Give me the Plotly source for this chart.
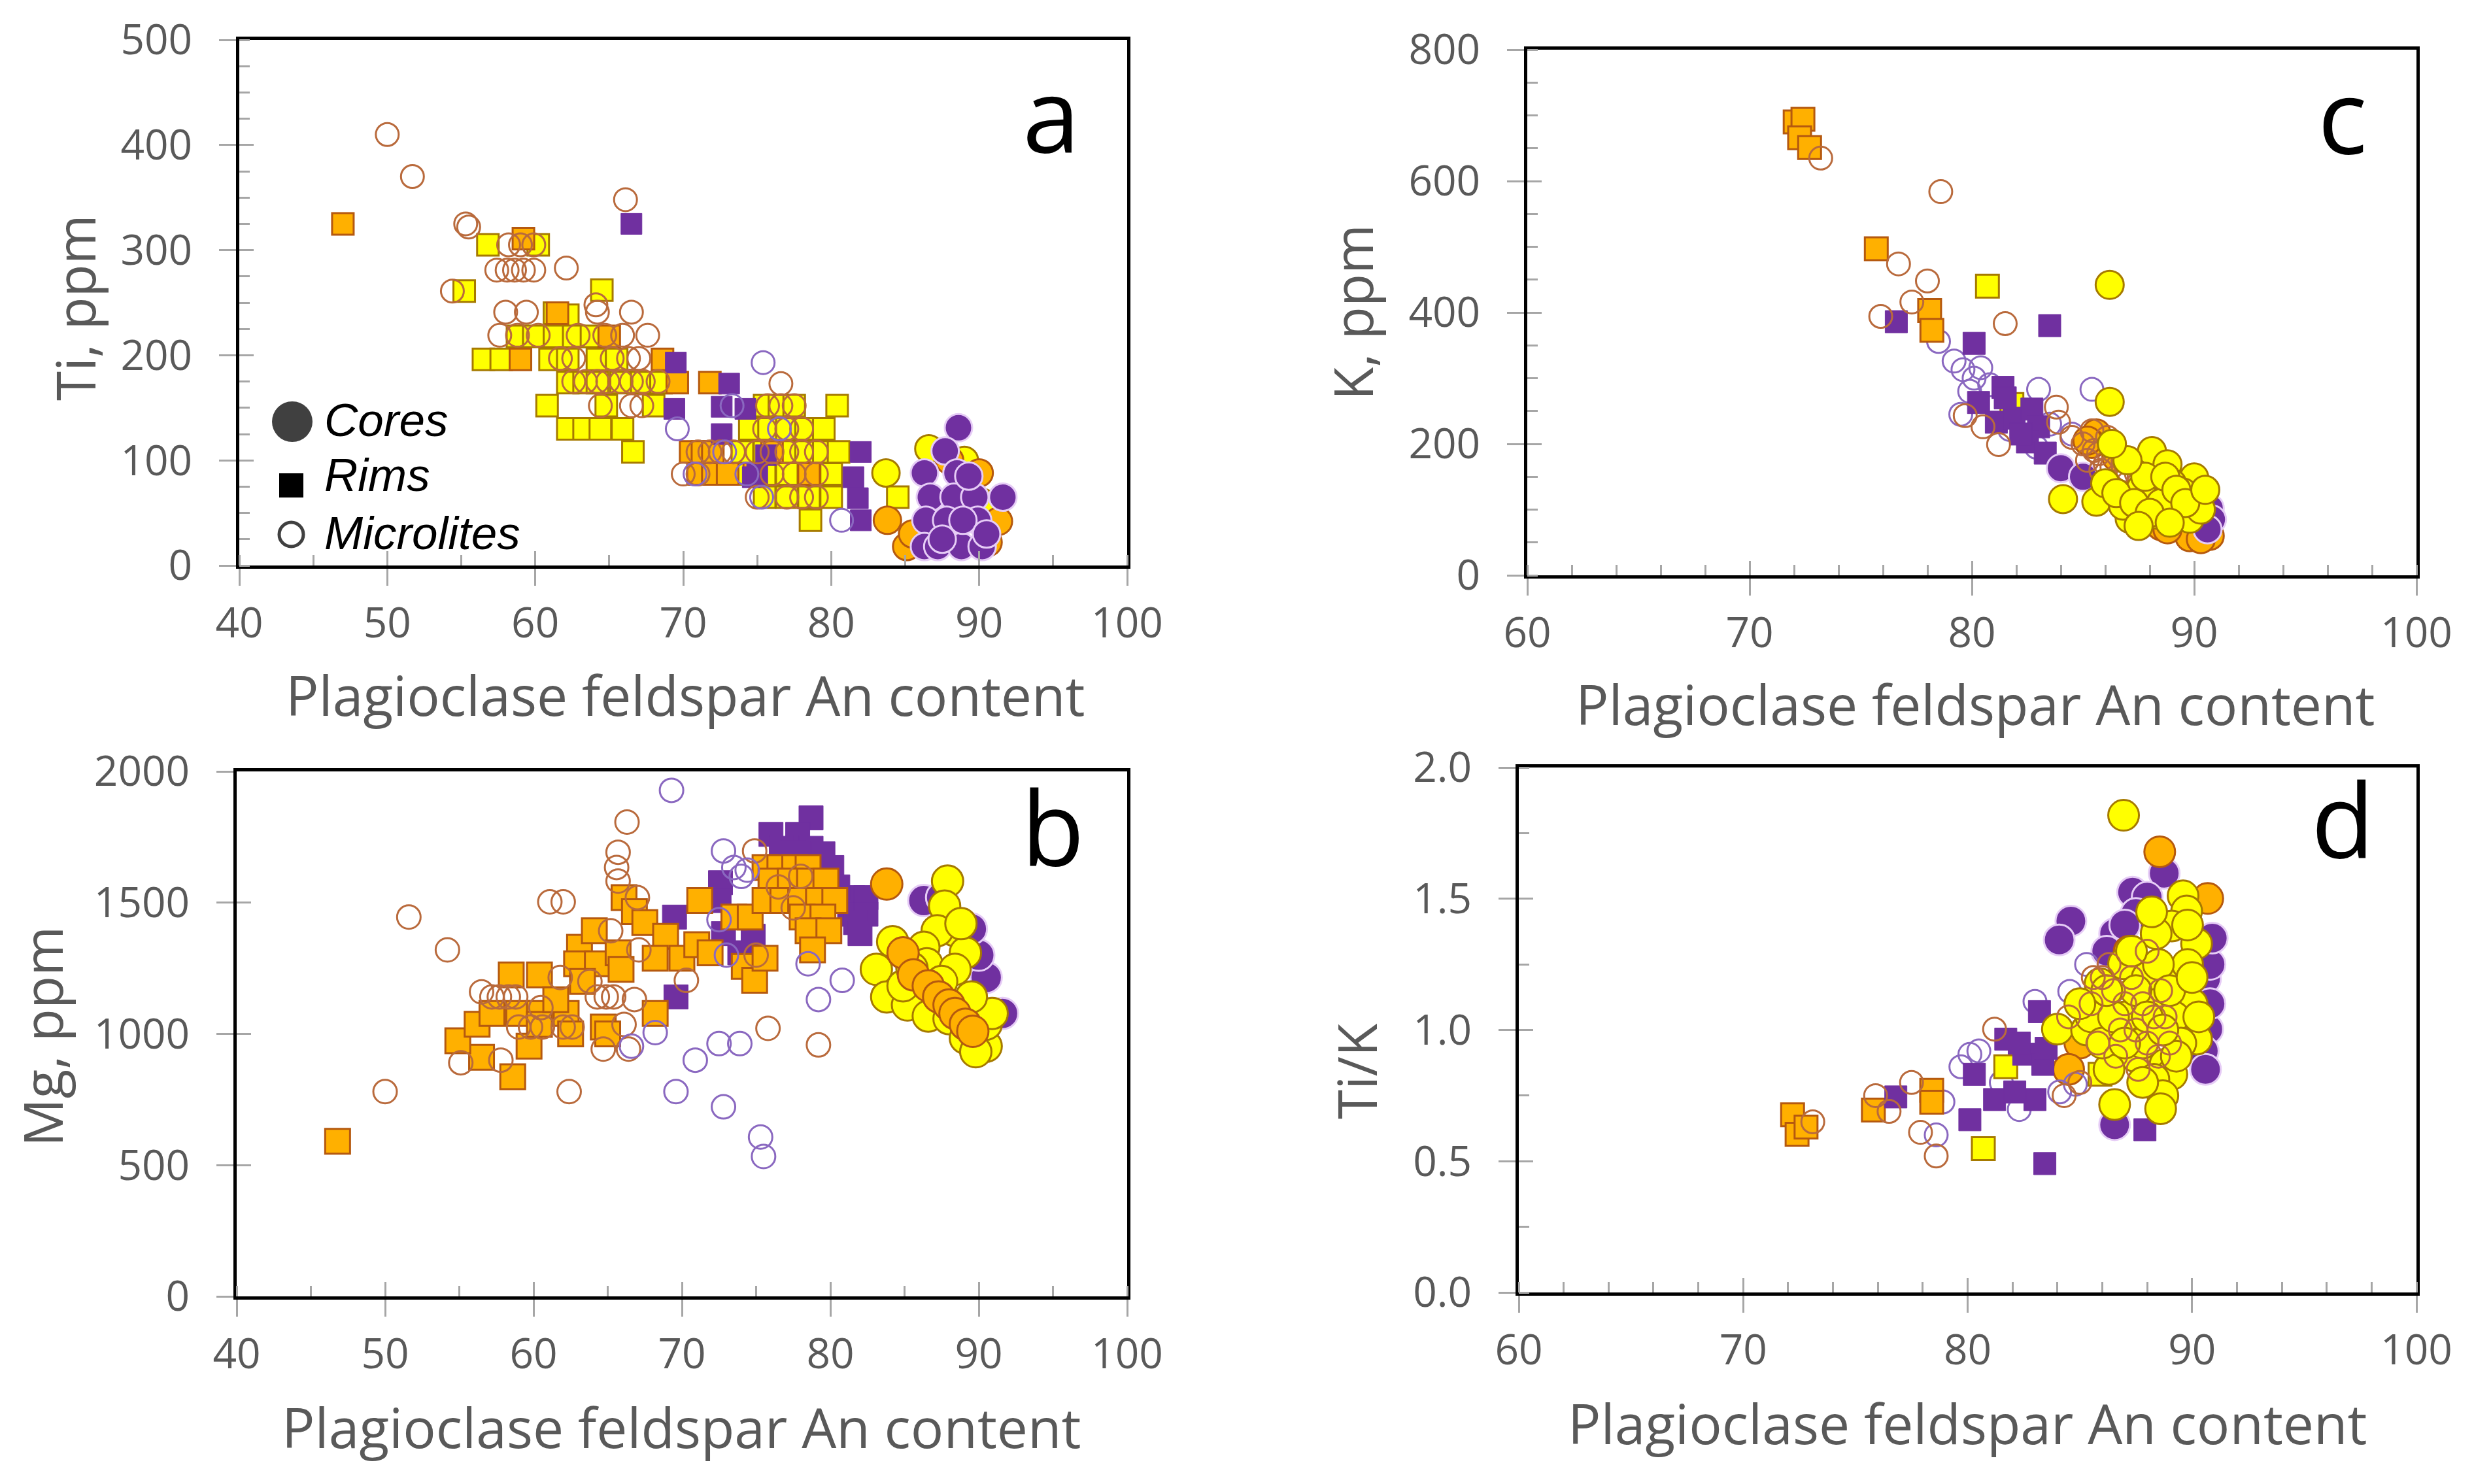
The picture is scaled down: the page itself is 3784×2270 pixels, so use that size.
import plotly.graph_objects as go

W, H = 3784, 2270
FONT = "Open Sans"
GREY = "#595959"
TICKC = "#A6A6A6"

YEL, YEL_EDGE = "#FFFF00", "#A67A00"
ORA, ORA_EDGE = "#FFB000", "#B5590F"
PUR, PUR_EDGE = "#7030A0", "#E6CCF6"
MIC_B = "#B96A3C"
MIC_P = "#8A68C0"

# ---------------- Panel a : Ti (ppm) vs An ----------------
a_core_Y_x = [83.7, 86.6, 89.0, 90.2]
a_core_Y_y = [88, 111, 100, 60]
a_core_O_x = [83.8, 85.1, 85.5, 90.0, 91.3, 90.6, 88.0]
a_core_O_y = [43, 18, 30, 88, 42, 22, 100]
a_core_P_x = [88.6, 87.7, 86.3, 88.5, 86.7, 88.3, 89.7, 91.6, 86.4, 87.8, 89.9, 86.3, 87.2, 88.8, 90.2, 88.9, 89.3, 90.5, 87.5]
a_core_P_y = [131, 109, 88, 88, 65, 65, 65, 65, 43, 43, 43, 18, 18, 18, 18, 43, 85, 30, 25]
a_rim_Y_x = [56.8, 60.2, 55.2, 64.5, 61.3, 62.2, 58.8, 59.9, 61.3, 62.6, 63.8,
             56.5, 57.7, 61.0, 62.2, 64.2, 65.5, 62.2, 63.3, 64.2, 65.8, 67.2, 68.5,
             60.8, 64.8, 68.0, 62.2, 63.3, 64.4, 65.9, 66.6,
             75.5, 76.5, 77.5, 80.4, 74.5, 75.8, 77.0, 78.3, 79.5,
             74.0, 75.5, 77.0, 78.3, 79.5, 80.5, 73.5, 75.5, 77.0, 78.5, 80.0,
             75.5, 77.0, 78.5, 80.0, 78.6, 84.5]
a_rim_Y_y = [305, 305, 261, 262, 240, 238, 218, 218, 218, 218, 218,
             196, 196, 196, 196, 196, 196, 174, 174, 174, 174, 174, 174,
             152, 152, 152, 130, 130, 130, 130, 108,
             152, 152, 152, 152, 130, 130, 130, 130, 130,
             108, 108, 108, 108, 108, 108, 87, 87, 87, 87, 87,
             65, 65, 65, 65, 43, 65]
a_rim_O_x = [47.0, 59.2, 59.0, 68.6, 69.6, 71.8, 70.5, 71.3, 72.0, 71.0, 72.0, 73.0, 76.0, 78.5, 74.8, 65.0, 61.5]
a_rim_O_y = [325, 311, 196, 196, 174, 174, 108, 108, 108, 87, 87, 87, 108, 87, 87, 218, 240]
a_rim_P_x = [66.5, 69.5, 69.4, 73.1, 72.6, 72.6, 74.2, 74.7, 75.6, 82.0, 81.5, 81.8, 82.0, 75.0]
a_rim_P_y = [325, 193, 149, 173, 151, 125, 149, 84, 105, 108, 84, 64, 43, 87]
a_mic_B_x = [50.0, 51.7, 55.3, 55.5, 66.1, 54.4, 57.4, 58.1, 58.6, 59.2, 59.9, 62.1,
             58.2, 59.0, 59.9, 58.0, 59.4, 64.1, 64.2, 66.5,
             57.6, 58.8, 60.2, 62.9, 64.7, 65.9, 67.6, 61.7, 62.6, 65.2, 66.3, 67.0,
             62.6, 63.4, 64.2, 64.9, 65.8, 66.5, 67.3, 68.3,
             64.4, 66.5, 67.2, 75.7, 76.6, 77.5, 76.6,
             71.0, 71.8, 72.5, 73.4, 75.0, 76.0, 77.0, 78.0, 79.0,
             75.5, 77.0, 78.0, 70.0, 71.0, 76.0, 77.5, 79.0, 75.0, 77.0, 78.0, 79.0]
a_mic_B_y = [410, 370, 325, 322, 348, 261, 281, 281, 281, 281, 281, 283,
             305, 305, 305, 241, 241, 248, 241, 241,
             219, 219, 219, 219, 219, 219, 219, 197, 197, 197, 197, 197,
             175, 175, 175, 175, 175, 175, 175, 175,
             152, 152, 152, 152, 152, 152, 173,
             108, 108, 108, 108, 108, 108, 108, 108, 108,
             130, 130, 130, 87, 87, 87, 87, 87, 65, 65, 65, 65]
a_mic_P_x = [75.4, 69.6, 70.8, 72.8, 80.7, 75.3, 73.3, 74.3, 76.5]
a_mic_P_y = [193, 130, 87, 108, 43, 65, 152, 87, 130]

# ---------------- Panel b : Mg (ppm) vs An ----------------
b_core_Y_x = [87.9, 87.7, 88.4, 89.1, 87.2, 86.3, 84.2, 83.1, 83.8, 85.2, 86.6, 88.0, 89.1, 90.5, 90.5, 90.9, 89.8, 84.9, 86.5, 88.4, 89.5, 87.5, 85.5, 88.8]
b_core_Y_y = [1582, 1487, 1393, 1309, 1393, 1330, 1351, 1246, 1141, 1110, 1068, 1058, 984, 953, 1037, 1078, 932, 1183, 1267, 1246, 1141, 1200, 1250, 1420]
b_core_O_x = [83.8, 84.9, 85.6, 86.6, 87.3, 88.0, 88.4, 89.1, 89.6]
b_core_O_y = [1571, 1309, 1225, 1183, 1141, 1110, 1078, 1037, 1010]
b_core_P_x = [86.3, 90.5, 91.6, 90.0, 89.5, 87.5]
b_core_P_y = [1508, 1215, 1078, 1300, 1400, 1520]
b_rim_O_x = [46.8, 58.6, 56.5, 54.9, 56.2, 57.2, 58.5, 60.4, 59.0, 60.4, 62.2, 59.7, 60.4, 63.1, 64.1, 62.9, 64.3, 65.7, 65.9, 64.7,
             68.2, 66.1, 66.8, 67.5, 68.9, 68.2, 70.0, 71.0, 71.9, 71.2, 73.5, 74.6, 74.2, 74.9, 75.6,
             75.6, 76.6, 77.6, 78.5, 76.0, 77.3, 78.6, 79.7, 75.6, 76.8, 78.0, 79.2, 80.3, 78.1, 79.5, 78.5, 79.9, 78.8,
             61.5, 62.5, 63.3, 65.0]
b_rim_O_y = [591, 837, 911, 974, 1037, 1078, 1225, 1225, 1078, 1078, 1078, 953, 1036, 1330, 1393, 1267, 1267, 1309, 1246, 1026,
             1078, 1519, 1466, 1424, 1372, 1288, 1288, 1340, 1309, 1508, 1445, 1445, 1257, 1204, 1288,
             1634, 1634, 1634, 1634, 1582, 1582, 1582, 1582, 1508, 1508, 1508, 1508, 1508, 1445, 1445, 1393, 1393, 1320,
             1130, 1000, 1200, 1000]
b_rim_P_x = [78.7, 76.0, 77.8, 76.7, 78.7, 79.5, 80.1, 72.6, 81.5, 82.4, 81.3, 82.4, 81.7, 82.0, 69.5, 69.6, 72.8, 73.9, 74.8, 72.5, 80.5, 77.5]
b_rim_P_y = [1823, 1760, 1760, 1707, 1707, 1686, 1634, 1576, 1519, 1519, 1456, 1456, 1424, 1382, 1445, 1141, 1382, 1309, 1372, 1508, 1560, 1690]
b_mic_B_x = [66.3, 65.7, 65.6, 65.7, 61.1, 62.0, 51.6, 54.2, 50.0, 62.4, 55.1, 57.8, 57.2, 57.7, 58.3, 58.8, 61.8,
             59.0, 59.8, 60.6, 62.0, 62.6, 64.3, 64.9, 65.4, 64.7, 66.4, 66.8, 67.1, 67.0, 66.1,
             74.9, 75.8, 79.2, 70.3, 65.2, 63.8, 60.5, 56.5, 76.5, 78.0, 77.5, 75.0]
b_mic_B_y = [1807, 1692, 1634, 1582, 1503, 1503, 1445, 1320, 780, 780, 890, 900, 1141, 1141, 1141, 1141, 1215,
             1026, 1026, 1026, 1026, 1026, 1141, 1141, 1141, 942, 942, 1131, 1320, 1519, 1036,
             1697, 1021, 958, 1204, 1393, 1200, 1100, 1160, 1560, 1600, 1480, 1300]
b_mic_P_x = [69.3, 72.8, 73.5, 74.4, 72.5, 78.5, 80.8, 79.2, 72.5, 73.9, 70.9, 69.6, 72.8, 75.3, 75.5, 68.2, 66.6, 74.0, 73.0]
b_mic_P_y = [1928, 1697, 1634, 1624, 1435, 1267, 1204, 1131, 963, 963, 900, 780, 722, 607, 533, 1005, 953, 1600, 1300]

# ---------------- Panel c : K (ppm) vs An ----------------
c_core_Y_x = [86.2, 86.2, 84.1, 85.6, 88.1, 88.8, 90.0, 90.2, 87.1, 86.8, 88.4, 89.4, 89.8, 89.5, 87.6, 89.0, 88.5, 90.3, 87.8,
              86.0, 86.5, 87.3, 88.7, 89.2, 87.0, 86.3, 89.6, 88.0, 90.5, 87.5, 88.9]
c_core_Y_y = [442, 264, 116, 112, 189, 169, 149, 119, 86, 106, 92, 102, 86, 126, 132, 140, 110, 100, 150,
              140, 125, 110, 150, 130, 175, 200, 110, 95, 130, 75, 80]
c_core_O_x = [85.6, 85.4, 90.7, 89.8, 88.5, 86.5, 85.2, 88.8, 90.3]
c_core_O_y = [216, 200, 60, 58, 75, 180, 205, 70, 55]
c_core_P_x = [84.0, 88.3, 90.7, 90.8, 85.0, 90.6]
c_core_P_y = [163, 119, 102, 85, 150, 70]
c_rim_O_x = [72.05, 72.4, 72.25, 72.7, 75.7, 78.1, 78.2]
c_rim_O_y = [690, 694, 666, 651, 497, 403, 373]
c_rim_Y_x = [80.7, 81.8]
c_rim_Y_y = [440, 260]
c_rim_P_x = [76.6, 83.5, 80.1, 81.4, 80.3, 81.1, 81.9, 82.7, 83.0, 82.5, 83.3, 81.5, 82.2]
c_rim_P_y = [386, 380, 353, 286, 263, 233, 239, 253, 226, 203, 186, 270, 215]
c_mic_B_x = [73.2, 78.6, 76.7, 78.0, 77.3, 81.5, 75.9, 79.7, 80.5, 81.2, 83.8, 83.9, 85.5, 86.0, 86.5, 87.0, 87.5, 86.2, 85.8,
             87.2, 88.0, 88.5, 86.8, 85.2, 84.5, 85.0, 85.7, 86.3, 86.9, 87.4, 87.9, 88.2, 88.6, 89.0, 86.1, 85.4, 87.8]
c_mic_B_y = [635, 584, 474, 448, 416, 383, 394, 243, 226, 199, 256, 233, 190, 170, 150, 160, 140, 130, 160,
             120, 110, 130, 175, 175, 210, 200, 185, 165, 145, 155, 125, 140, 115, 100, 210, 220, 170]
c_mic_P_x = [78.5, 79.2, 79.6, 80.1, 80.4, 79.9, 83.0, 85.4, 80.8, 79.5, 81.7, 82.9, 84.5, 83.5, 88.0]
c_mic_P_y = [356, 326, 313, 300, 316, 280, 283, 283, 290, 245, 222, 195, 215, 230, 120]

# ---------------- Panel d : Ti/K vs An ----------------
d_core_Y_x = [86.95, 89.6, 89.76, 89.1, 88.4, 90.2, 86.95, 85.9, 90.0, 90.2, 84.0, 87.5, 88.8, 89.1, 88.3, 86.55, 88.0, 87.0,
              89.5, 85.3, 88.5, 87.8, 89.8, 86.3, 88.7, 89.2,
              85.5, 86.0, 86.5, 87.0, 87.5, 88.0, 88.5, 89.0, 89.5, 90.0, 88.2, 87.3, 86.2, 89.3, 87.8, 88.7, 85.0, 90.3, 89.8, 88.6]
d_core_Y_y = [1.818, 1.511, 1.453, 1.396, 1.367, 1.329, 1.252, 1.176, 1.099, 0.965, 1.003, 0.898, 0.869, 0.831, 0.812, 0.716, 1.20, 1.05,
              1.20, 1.0, 1.1, 0.95, 1.25, 0.85, 0.75, 1.05,
              1.05, 0.95, 1.05, 0.95, 1.15, 1.05, 1.25, 1.15, 0.95, 1.20, 1.45, 1.30, 1.15, 0.90, 0.80, 1.00, 1.10, 1.05, 1.40, 0.70]
d_core_O_x = [88.56, 90.7, 85.0, 84.5, 87.2]
d_core_O_y = [1.679, 1.501, 0.95, 0.85, 1.30]
d_core_P_x = [88.76, 87.35, 88.0, 84.6, 84.08, 87.5, 86.55, 90.6, 90.7, 86.55, 90.5, 90.8, 87.0, 90.8, 90.9, 90.6, 86.2]
d_core_P_y = [1.597, 1.525, 1.506, 1.415, 1.343, 1.444, 1.367, 1.195, 1.003, 0.639, 0.92, 1.1, 1.40, 1.25, 1.35, 0.85, 1.30]
d_rim_O_x = [72.2, 72.4, 72.8, 75.8, 78.4, 78.4]
d_rim_O_y = [0.677, 0.603, 0.63, 0.695, 0.77, 0.725]
d_rim_Y_x = [80.7, 81.7, 85.9]
d_rim_Y_y = [0.548, 0.86, 0.831]
d_rim_P_x = [87.9, 83.44, 80.1, 83.2, 81.7, 82.5, 83.35, 83.0, 81.2, 82.1, 80.3, 76.8, 82.3, 83.5]
d_rim_P_y = [0.62, 0.491, 0.658, 1.07, 0.965, 0.908, 0.869, 0.735, 0.735, 0.764, 0.831, 0.745, 0.95, 0.93]
d_mic_B_x = [73.1, 75.9, 76.5, 77.5, 78.6, 77.9, 81.2, 84.5, 85.5, 86.0, 86.5, 87.0, 87.5, 88.0, 88.3, 88.5, 85.0, 84.3,
             85.8, 86.3, 86.8, 87.3, 87.8, 88.6, 88.0, 86.6, 87.6, 85.6, 88.8, 89.0]
d_mic_B_y = [0.65, 0.75, 0.69, 0.8, 0.52, 0.61, 1.003, 1.05, 1.1, 1.2, 1.15, 1.1, 1.0, 0.95, 1.05, 0.9, 0.8, 0.75,
             0.95, 1.25, 1.0, 1.2, 1.1, 1.15, 1.3, 0.9, 0.85, 1.2, 1.05, 0.95]
d_mic_P_x = [83.0, 84.55, 80.1, 79.7, 78.9, 78.6, 82.3, 84.1, 84.8, 80.5, 81.5, 85.3, 86.0]
d_mic_P_y = [1.109, 1.147, 0.907, 0.86, 0.726, 0.6, 0.697, 0.764, 0.793, 0.92, 0.8, 1.25, 1.05]

# marker sizes per panel (core, rim, microlite)
SIZES = {1: (42, 33, 35), 2: (48, 38, 36), 3: (43, 35, 35), 4: (47, 35, 35)}

def style(kind, ax):
    sc, sr, sm = SIZES[ax]
    return {
        "core_Y": dict(symbol="circle", size=sc, color=YEL, line=dict(color=YEL_EDGE, width=3)),
        "core_O": dict(symbol="circle", size=sc, color=ORA, line=dict(color=ORA_EDGE, width=3)),
        "core_P": dict(symbol="circle", size=sc, color=PUR, line=dict(color=PUR_EDGE, width=3)),
        "rim_Y": dict(symbol="square", size=sr, color=YEL, line=dict(color=YEL_EDGE, width=3)),
        "rim_O": dict(symbol="square", size=sr, color=ORA, line=dict(color=ORA_EDGE, width=3)),
        "rim_P": dict(symbol="square", size=sr - 1, color=PUR, line=dict(color=PUR, width=1)),
        "mic_B": dict(symbol="circle-open", size=sm, color=MIC_B, line=dict(color=MIC_B, width=3)),
        "mic_P": dict(symbol="circle-open", size=sm, color=MIC_P, line=dict(color=MIC_P, width=3)),
    }[kind]

fig = go.Figure()

def add(ax, xs, ys, kind):
    n = "" if ax == 1 else str(ax)
    fig.add_trace(go.Scatter(x=xs, y=ys, mode="markers", marker=style(kind, ax),
                             xaxis="x" + n, yaxis="y" + n, showlegend=False,
                             cliponaxis=False, hoverinfo="skip"))

# panel a (purple cores on top)
add(1, a_rim_Y_x, a_rim_Y_y, "rim_Y")
add(1, a_rim_O_x, a_rim_O_y, "rim_O")
add(1, a_rim_P_x, a_rim_P_y, "rim_P")
add(1, a_mic_B_x, a_mic_B_y, "mic_B")
add(1, a_mic_P_x, a_mic_P_y, "mic_P")
add(1, a_core_Y_x, a_core_Y_y, "core_Y")
add(1, a_core_O_x, a_core_O_y, "core_O")
add(1, a_core_P_x, a_core_P_y, "core_P")
# panel b
add(2, b_rim_P_x, b_rim_P_y, "rim_P")
add(2, b_rim_O_x, b_rim_O_y, "rim_O")
add(2, b_mic_B_x, b_mic_B_y, "mic_B")
add(2, b_mic_P_x, b_mic_P_y, "mic_P")
add(2, b_core_P_x, b_core_P_y, "core_P")
add(2, b_core_Y_x, b_core_Y_y, "core_Y")
add(2, b_core_O_x, b_core_O_y, "core_O")
# panel c
add(3, c_mic_P_x, c_mic_P_y, "mic_P")
add(3, c_rim_O_x, c_rim_O_y, "rim_O")
add(3, c_rim_Y_x, c_rim_Y_y, "rim_Y")
add(3, c_rim_P_x, c_rim_P_y, "rim_P")
add(3, c_core_O_x, c_core_O_y, "core_O")
add(3, c_core_P_x, c_core_P_y, "core_P")
add(3, c_mic_B_x, c_mic_B_y, "mic_B")
add(3, c_core_Y_x, c_core_Y_y, "core_Y")
# panel d
add(4, d_core_P_x, d_core_P_y, "core_P")
add(4, d_core_O_x, d_core_O_y, "core_O")
add(4, d_mic_P_x, d_mic_P_y, "mic_P")
add(4, d_rim_O_x, d_rim_O_y, "rim_O")
add(4, d_rim_Y_x, d_rim_Y_y, "rim_Y")
add(4, d_rim_P_x, d_rim_P_y, "rim_P")
add(4, d_core_Y_x, d_core_Y_y, "core_Y")
add(4, d_mic_B_x, d_mic_B_y, "mic_B")

# empty traces for overlay axes (inner half of crossing major ticks)
for k in range(5, 9):
    fig.add_trace(go.Scatter(x=[], y=[], xaxis="x%d" % k, yaxis="y%d" % k,
                             showlegend=False, hoverinfo="skip"))

def dx(a, b):
    return [a / W, b / W]

def dy(top, bottom):
    return [1 - bottom / H, 1 - top / H]

PANELS = [
    # xdomain px, ydomain px, xrange, yrange, xdtick, xminor, ydtick, yminor, yfmt
    (dx(358, 1716), dy(53, 857), [40, 100], [0, 500], 10, 5, 100, 25, None),
    (dx(354, 1716), dy(1172, 1975), [40, 100], [0, 2000], 10, 5, 500, None, None),
    (dx(2328, 3688), dy(68, 872), [60, 100], [0, 800], 10, 2, 200, 50, None),
    (dx(2315, 3688), dy(1166, 1969), [60, 100], [0, 2.0], 10, 2, 0.5, 0.25, ".1f"),
]

tickfont = dict(family=FONT, size=64, color=GREY)
layout = {}
for i, (xd, yd, xr, yr, xdt, xmin, ydt, ymin, yfmt) in enumerate(PANELS):
    n = "" if i == 0 else str(i + 1)
    xm = dict(ticks="inside", dtick=xmin, ticklen=16, tickwidth=3, tickcolor=TICKC)
    ym = dict(ticks="inside", dtick=ymin, ticklen=16, tickwidth=3, tickcolor=TICKC) if ymin else dict(ticks="")
    layout["xaxis" + n] = dict(domain=xd, range=xr, dtick=xdt, tick0=xr[0], anchor="y" + n,
                               showline=True, linecolor="black", linewidth=5, mirror=True,
                               ticks="outside", ticklen=26, tickwidth=3, tickcolor=TICKC,
                               minor=xm, showgrid=False, zeroline=False, automargin=False,
                               tickfont=tickfont, ticklabelstandoff=2)
    layout["yaxis" + n] = dict(domain=yd, range=yr, dtick=ydt, tick0=0, anchor="x" + n,
                               showline=True, linecolor="black", linewidth=5, mirror=True,
                               ticks="outside", ticklen=26, tickwidth=3, tickcolor=TICKC,
                               minor=ym, showgrid=False, zeroline=False, automargin=False,
                               tickfont=tickfont, ticklabelstandoff=28,
                               tickformat=yfmt if yfmt else "")
    k = i + 5
    layout["xaxis%d" % k] = dict(overlaying="x" + n, anchor="y" + n, side="bottom", range=xr,
                                 dtick=xdt, tick0=xr[0], ticks="inside", ticklen=22, tickwidth=3,
                                 tickcolor=TICKC, showticklabels=False, showline=False,
                                 showgrid=False, zeroline=False, automargin=False)
    layout["yaxis%d" % k] = dict(overlaying="y" + n, anchor="x" + n, side="left", range=yr,
                                 dtick=ydt, tick0=0, ticks="inside", ticklen=22, tickwidth=3,
                                 tickcolor=TICKC, showticklabels=False, showline=False,
                                 showgrid=False, zeroline=False, automargin=False)

def P(x, y):
    return x / W, 1 - y / H

annotations = []
def ann(text, x, y, size, color, family=FONT, angle=0, xanchor="center"):
    ax_, ay_ = P(x, y)
    annotations.append(dict(text=text, x=ax_, y=ay_, xref="paper", yref="paper",
                            showarrow=False, xanchor=xanchor, yanchor="middle",
                            textangle=angle, font=dict(family=family, size=size, color=color)))

XT = "Plagioclase feldspar An content"
ann(XT, 1040, 1055, 84, GREY)
ann(XT, 1034, 2174, 84, GREY)
ann(XT, 3013, 1068, 84, GREY)
ann(XT, 3001, 2168, 84, GREY)
ann("Ti, ppm", 106, 463, 82, GREY, angle=-90)
ann("Mg, ppm", 56, 1578, 82, GREY, angle=-90)
ann("K, ppm", 2060, 470, 82, GREY, angle=-90)
ann("Ti/K", 2066, 1631, 82, GREY, angle=-90)
ann("a", 1600, 164, 158, "black")
ann("b", 1602, 1254, 158, "black")
ann("c", 3575, 166, 158, "black")
ann("d", 3575, 1242, 158, "black")
ann("<i>Cores</i>", 486, 634, 71, "black", family="Liberation Sans", xanchor="left")
ann("<i>Rims</i>", 486, 719, 71, "black", family="Liberation Sans", xanchor="left")
ann("<i>Microlites</i>", 486, 807, 71, "black", family="Liberation Sans", xanchor="left")

def shp(kind, x0, y0, x1, y1, fill, line_color, lw):
    return dict(type=kind, xref="paper", yref="paper",
                x0=x0 / W, x1=x1 / W, y0=1 - y1 / H, y1=1 - y0 / H,
                fillcolor=fill, line=dict(color=line_color, width=lw))

shapes = [
    shp("circle", 408, 606, 470, 668, "#404040", "#404040", 0),
    shp("rect", 419, 716, 456, 753, "black", "black", 0),
    shp("circle", 419, 791, 456, 828, "rgba(0,0,0,0)", "#404040", 5),
]

fig.update_layout(template="none", width=W, height=H, margin=dict(l=0, r=0, t=0, b=0, pad=0),
                  paper_bgcolor="white", plot_bgcolor="white", showlegend=False,
                  annotations=annotations, shapes=shapes, **layout)

fig.write_html("out.html")
